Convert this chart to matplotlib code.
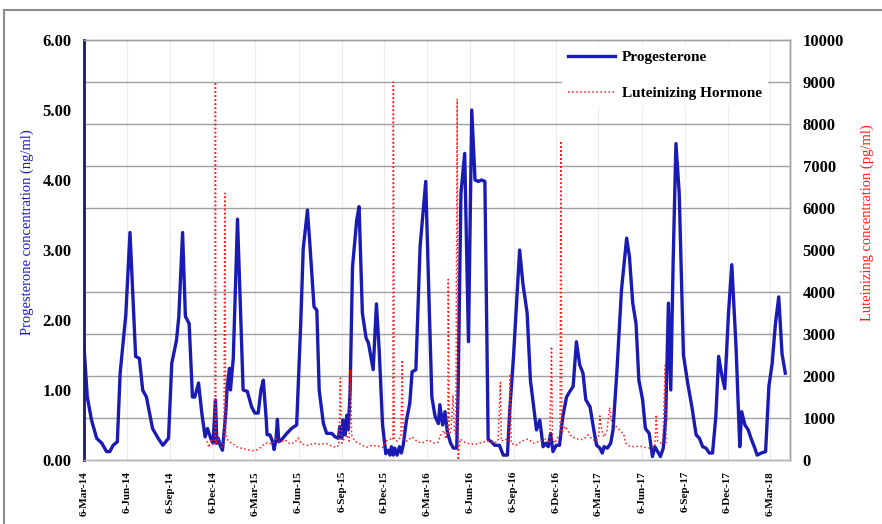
import matplotlib
matplotlib.use('Agg')
import matplotlib.pyplot as plt
from matplotlib.lines import Line2D
from matplotlib.ticker import FormatStrFormatter
import numpy as np
import pandas as pd

# sampling days counted from 6-Mar-14
prog_day = [0, 7, 16, 27, 38, 48, 55, 62, 71, 77, 89, 98, 110, 118, 125, 133, 146, 158, 168, 180,
            187, 197, 202, 210, 216, 224, 231, 236, 244, 251, 258, 263, 270, 275, 280, 283, 286, 290, 295, 302,
            305, 310, 312, 318, 327, 339, 348, 357, 364, 371, 377, 382, 388, 390, 396, 402, 405, 409, 412, 415,
            421, 432, 442, 453, 462, 467, 476, 481, 490, 496, 501, 510, 517, 528, 535, 542, 545, 549, 552, 556,
            560, 563, 567, 572, 581, 586, 593, 601, 606, 616, 623, 629, 636, 643, 648, 652, 655, 659, 662, 667,
            672, 676, 680, 687, 694, 699, 707, 716, 728, 735, 741, 748, 755, 758, 764, 769, 774, 781, 787, 794,
            797, 803, 811, 819, 826, 833, 840, 847, 854, 861, 868, 875, 885, 893, 902, 907, 915, 928, 935, 944,
            951, 958, 964, 971, 978, 984, 989, 994, 999, 1006, 1013, 1020, 1028, 1035, 1042, 1049, 1056, 1063, 1069, 1078,
            1086, 1092, 1099, 1104, 1108, 1115, 1122, 1127, 1135, 1145, 1156, 1162, 1169, 1176, 1182, 1190, 1196, 1204, 1211, 1216,
            1222, 1228, 1234, 1239, 1245, 1250, 1255, 1261, 1268, 1277, 1286, 1295, 1304, 1311, 1318, 1325, 1332, 1339, 1346, 1352,
            1358, 1365, 1373, 1380, 1389, 1397, 1401, 1408, 1415, 1422, 1429, 1434, 1443, 1452, 1459, 1466, 1473, 1480, 1487, 1494]
prog_val = [1.62, 0.90, 0.57, 0.31, 0.24, 0.12, 0.12, 0.21, 0.26, 1.24, 2.07, 3.25, 1.48, 1.45, 1.00, 0.90, 0.45, 0.31, 0.21, 0.31,
            1.38, 1.71, 2.05, 3.25, 2.05, 1.95, 0.90, 0.90, 1.10, 0.67, 0.33, 0.45, 0.31, 0.24, 0.86, 0.24, 0.31, 0.21, 0.14, 0.67,
            1.05, 1.31, 1.00, 1.45, 3.44, 1.00, 0.98, 0.76, 0.67, 0.67, 1.00, 1.14, 0.60, 0.36, 0.36, 0.26, 0.15, 0.29, 0.58, 0.26,
            0.29, 0.38, 0.45, 0.50, 2.00, 3.02, 3.57, 3.10, 2.19, 2.14, 1.00, 0.52, 0.38, 0.38, 0.33, 0.31, 0.48, 0.31, 0.57, 0.36,
            0.64, 0.43, 1.00, 2.76, 3.43, 3.62, 2.10, 1.74, 1.67, 1.29, 2.23, 1.55, 0.50, 0.09, 0.14, 0.07, 0.19, 0.07, 0.17, 0.07,
            0.19, 0.10, 0.21, 0.57, 0.81, 1.26, 1.29, 3.05, 3.98, 2.29, 0.90, 0.62, 0.52, 0.79, 0.50, 0.69, 0.40, 0.24, 0.17, 0.17,
            1.00, 3.81, 4.38, 1.69, 5.00, 4.00, 3.98, 4.00, 3.98, 0.29, 0.26, 0.21, 0.21, 0.07, 0.07, 0.71, 1.48, 3.00, 2.52, 2.10,
            1.14, 0.76, 0.43, 0.57, 0.19, 0.24, 0.19, 0.38, 0.12, 0.21, 0.21, 0.62, 0.90, 0.98, 1.05, 1.69, 1.36, 1.24, 0.86, 0.76,
            0.43, 0.21, 0.17, 0.10, 0.19, 0.17, 0.24, 0.43, 1.24, 2.43, 3.17, 2.90, 2.24, 1.95, 1.14, 0.86, 0.45, 0.38, 0.05, 0.19,
            0.12, 0.05, 0.17, 0.57, 2.24, 1.00, 2.81, 4.52, 3.81, 1.50, 1.10, 0.76, 0.36, 0.31, 0.19, 0.17, 0.10, 0.10, 0.62, 1.48,
            1.24, 1.02, 2.10, 2.79, 1.62, 0.19, 0.69, 0.50, 0.43, 0.29, 0.17, 0.07, 0.10, 0.12, 1.05, 1.38, 1.95, 2.33, 1.52, 1.24]

lh_day = [262, 266, 271, 275, 279, 280, 281, 285, 290, 294, 298, 300, 302, 307, 315, 328, 343, 358, 371, 381,
          392, 400, 409, 417, 428, 439, 449, 456, 464, 477, 490, 503, 515, 528, 537, 543, 546, 549, 554, 560,
          565, 568, 570, 577, 588, 601, 613, 626, 637, 643, 652, 658, 659, 661, 667, 675, 678, 680, 688, 699,
          709, 720, 733, 746, 754, 760, 767, 771, 775, 776, 778, 782, 786, 789, 792, 795, 797, 801, 811, 822,
          835, 848, 861, 873, 882, 887, 889, 897, 905, 908, 910, 920, 933, 946, 958, 971, 984, 992, 996, 998,
          1003, 1010, 1014, 1016, 1018, 1025, 1031, 1039, 1048, 1056, 1065, 1074, 1082, 1091, 1097, 1099, 1103, 1108, 1114, 1120,
          1124, 1133, 1142, 1150, 1154, 1163, 1174, 1184, 1195, 1206, 1216, 1219, 1222, 1227, 1233, 1238, 1240, 1243]
lh_val = [450, 300, 500, 380, 450, 9000, 350, 500, 380, 300, 400, 6350, 600, 450, 400, 300, 260, 220, 250, 350,
          420, 380, 500, 420, 480, 380, 420, 520, 380, 350, 400, 370, 400, 330, 300, 350, 1950, 400, 500, 600,
          450, 2150, 600, 450, 380, 300, 350, 330, 300, 450, 500, 480, 9000, 500, 450, 550, 2380, 500, 450, 550,
          450, 400, 480, 400, 420, 600, 700, 500, 700, 4300, 600, 700, 1550, 700, 600, 8600, 0, 500, 420, 380,
          380, 420, 450, 400, 450, 1850, 450, 500, 450, 2050, 400, 350, 450, 500, 400, 450, 500, 400, 2700, 500,
          400, 550, 600, 7600, 650, 800, 700, 550, 520, 480, 500, 600, 500, 450, 600, 1050, 700, 550, 700, 1250,
          900, 800, 700, 600, 400, 320, 320, 330, 300, 280, 300, 1080, 450, 420, 380, 2250, 400, 350]

tick_labels = ['6-Mar-14', '6-Jun-14', '6-Sep-14', '6-Dec-14', '6-Mar-15', '6-Jun-15', '6-Sep-15',
               '6-Dec-15', '6-Mar-16', '6-Jun-16', '6-Sep-16', '6-Dec-16', '6-Mar-17', '6-Jun-17',
               '6-Sep-17', '6-Dec-17', '6-Mar-18']

start = pd.Timestamp('2014-03-06')
prog_x = start + pd.to_timedelta(prog_day, unit='D')
lh_x = start + pd.to_timedelta(lh_day, unit='D')
tick_x = pd.to_datetime(tick_labels, format='%d-%b-%y')

plt.rcParams['font.family'] = ['Liberation Serif', 'DejaVu Serif']

blue = '#1a1ab4'
red = '#ff1a1a'

fig = plt.figure(figsize=(8.82, 5.24), dpi=100)
ax = fig.add_axes([84/882, 64/524, 706/882, 420/524])
ax2 = ax.twinx()

ax.plot(prog_x, prog_val, color=blue, lw=2.4, label='Progesterone')
ax2.plot(lh_x, lh_val, color=red, lw=1.1, ls=':', label='Luteinizing Hormone')

ax.set_xlim(start, start + pd.Timedelta(days=1504))
ax.set_ylim(0, 6)
ax2.set_ylim(0, 10000)

ax.set_xticks(tick_x)
ax.set_xticklabels(tick_labels, rotation=90, fontsize=8, fontweight='bold')
ax.set_yticks(np.arange(0, 6.01, 1))
ax.yaxis.set_major_formatter(FormatStrFormatter('%.2f'))
ax2.set_yticks(np.arange(0, 10001, 1000))
for lab in ax.get_yticklabels() + ax2.get_yticklabels():
    lab.set_fontweight('bold')
    lab.set_fontsize(12)

# grid lines sit under the progesterone line
ax.set_yticks(np.arange(0, 6.01, 0.6), minor=True)
ax.yaxis.grid(True, which='minor', color='#a0a0a0', lw=1)
ax.xaxis.grid(True, color='#ececec', lw=0.8)
ax.set_axisbelow(True)

ax.tick_params(axis='x', length=0, pad=8)
ax.tick_params(axis='y', which='both', length=0, pad=9)
ax2.tick_params(axis='y', length=0, pad=9)

for a in (ax, ax2):
    for s in a.spines.values():
        s.set_color('#a0a0a0')
        s.set_linewidth(1)
ax2.spines['bottom'].set_color('#b4b4b4')
ax2.spines['left'].set_color('#1a1a6e')
ax2.spines['left'].set_linewidth(2)

ax.set_ylabel('Progesterone concentration (ng/ml)', color=blue, fontsize=10.5)
ax.yaxis.set_label_coords(-0.071, 0.543)
ax2.set_ylabel('Luteinizing concentration (pg/ml)', color=red, fontsize=10.5)
ax2.yaxis.set_label_coords(1.100, 0.564)

h1, l1 = ax.get_legend_handles_labels()
h2, l2 = ax2.get_legend_handles_labels()
leg = ax2.legend(h1 + h2, l1 + l2, loc='upper left', bbox_to_anchor=(0.677, 0.99),
                 borderaxespad=0, handlelength=3.1, handletextpad=0.4, labelspacing=1.45,
                 fancybox=False, framealpha=1, prop={'weight': 'bold', 'size': 11})
leg.get_frame().set_edgecolor('none')

# outer frame of the original picture
fig.add_artist(Line2D([4/882, 4/882], [0, 1 - 10/524], transform=fig.transFigure, color='#8c8c8c', lw=1.5))
fig.add_artist(Line2D([4/882, 1], [1 - 10/524, 1 - 10/524], transform=fig.transFigure, color='#8c8c8c', lw=1.5))

fig.savefig('out.png', dpi=100)
